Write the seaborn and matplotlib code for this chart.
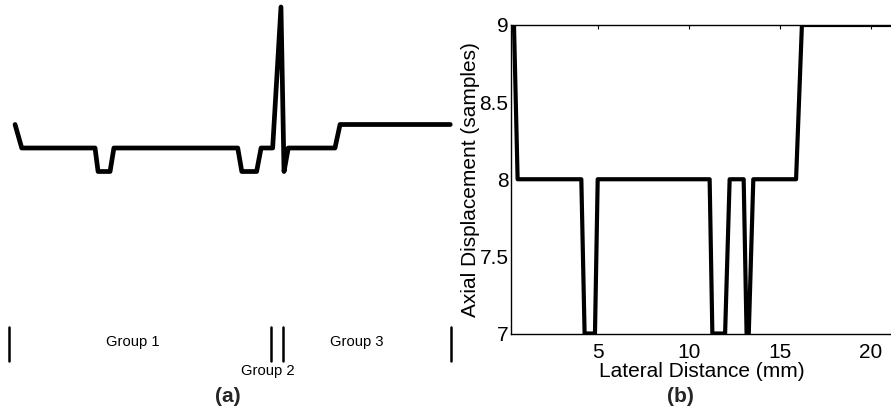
import matplotlib
matplotlib.use("Agg")
import matplotlib.pyplot as plt
import seaborn as sns
import pandas as pd
from matplotlib.transforms import blended_transform_factory

# ---- data ----
# panel (a): raw displacement profile (lateral distance in mm, displacement in samples)
a_x = [0.16, 0.49, 4.10, 4.25, 4.84, 5.03, 11.13, 11.33, 12.06, 12.28, 12.85,
       13.26, 13.41, 13.62, 15.92, 16.17, 21.60]
a_y = [9, 8, 8, 7, 7, 8, 8, 7, 7, 8, 8, 14, 7, 8, 8, 9, 9]

# panel (b): axial displacement vs lateral distance
b_x = [0.40, 0.60, 4.10, 4.28, 4.85, 5.00, 11.15, 11.30, 12.00, 12.25, 13.02,
       13.18, 13.30, 13.55, 15.90, 16.22, 21.30]
b_y = [9, 8, 8, 7, 7, 8, 8, 7, 7, 8, 8, 7, 7, 8, 8, 9, 9]

group_bounds = [-0.14, 12.77, 13.36, 21.63]
group_labels = ["Group 1", "Group 2", "Group 3"]
group_label_x = [5.97, 12.62, 17.0]

b_xticks = [5, 10, 15, 20]
b_yticks = [7, 7.5, 8, 8.5, 9]
b_yticklabels = ["7", "7.5", "8", "8.5", "9"]

# ---- style ----
sns.set_theme(style="white")
plt.rcParams['font.family'] = ['Liberation Sans', 'DejaVu Sans']

W, H = 891, 409
fig = plt.figure(figsize=(W / 100, H / 100), dpi=100)

def px(x0, y0, x1, y1):
    return [x0 / W, 1 - y1 / H, (x1 - x0) / W, (y1 - y0) / H]

# ---- panel (a) ----
ax_a = fig.add_axes(px(0, 0, 460, 409))
df_a = pd.DataFrame({"x": a_x, "y": a_y})
sns.lineplot(data=df_a, x="x", y="y", ax=ax_a, color="black", lw=3.4,
             sort=False, estimator=None)
ax_a.set_xlim(-11.8 / 20.3, (460 - 11.8) / 20.3)
ax_a.set_ylim(8 - (409 - 148) / 23.5, 8 + 148 / 23.5)
ax_a.set_axis_off()

trans = blended_transform_factory(ax_a.transData, fig.transFigure)
for gx in group_bounds:
    ax_a.plot([gx, gx], [1 - 327 / H, 1 - 361 / H], color="black", lw=1.8,
              transform=trans, clip_on=False)
label_y = [1 - 342 / H, 1 - 371 / H, 1 - 342 / H]
for lab, lx, ly in zip(group_labels, group_label_x, label_y):
    ax_a.text(lx, ly, lab, transform=trans, ha="center", va="center",
              fontsize=10.6, color="black")
fig.text(228 / W, 1 - 397 / H, "(a)", ha="center", va="center",
         fontsize=15, fontweight="bold")

# ---- panel (b) ----
ax_b = fig.add_axes(px(510.5, 25, 893, 333.5))
df_b = pd.DataFrame({"x": b_x, "y": b_y})
sns.lineplot(data=df_b, x="x", y="y", ax=ax_b, color="black", lw=3.0,
             sort=False, estimator=None)
x0px = 506.7
sc = 18.2
ax_b.set_xlim((510.5 - x0px) / sc, (893 - x0px) / sc)
ax_b.set_ylim(7, 9)
ax_b.set_xticks(b_xticks)
ax_b.set_xticklabels([str(t) for t in b_xticks])
ax_b.set_yticks(b_yticks)
ax_b.set_yticklabels(b_yticklabels)
ax_b.tick_params(direction="in", length=3, width=0.8, labelsize=15,
                 top=True, right=False, colors="black")
ax_b.tick_params(axis="x", pad=6.5)
ax_b.tick_params(axis="y", pad=1.5)
for s in ax_b.spines.values():
    s.set_color("black")
    s.set_linewidth(1.0)
ax_b.set_xlabel("Lateral Distance (mm)", fontsize=15, labelpad=0, color="black")
ax_b.set_ylabel("Axial Displacement (samples)", fontsize=15, labelpad=-0.5, color="black")
fig.text(680 / W, 1 - 397 / H, "(b)", ha="center", va="center",
         fontsize=15, fontweight="bold")

fig.savefig("out.png", dpi=100)
